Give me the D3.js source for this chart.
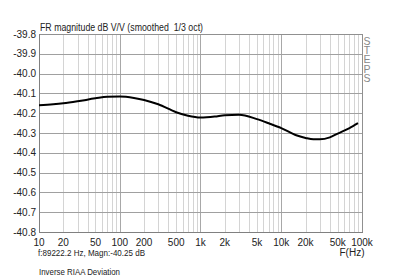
<!DOCTYPE html>
<html>
<head>
<meta charset="utf-8">
<script src="https://cdn.jsdelivr.net/npm/d3@7"></script>
<style>
  body { margin: 0; background: #fff; }
  svg { display: block; font-family: "Liberation Sans", Arial, sans-serif; }
</style>
</head>
<body>
<div id="plot"></div>
<script>
// frequency response readings (Hz, dB)
var freqs = [10, 15, 20, 30, 50, 70, 100, 150, 200, 300, 500, 700, 1000, 1500, 2000,
  3000, 5000, 7000, 10000, 15000, 20000, 25000, 30000, 40000, 50000, 70000, 89222];
var mags = [-40.16, -40.155, -40.15, -40.14, -40.125, -40.117, -40.116, -40.123, -40.133,
  -40.155, -40.195, -40.213, -40.222, -40.217, -40.21, -40.208, -40.23, -40.251, -40.275,
  -40.31, -40.325, -40.332, -40.332, -40.322, -40.303, -40.275, -40.25];
var yTicks = [-39.8, -39.9, -40.0, -40.1, -40.2, -40.3, -40.4, -40.5, -40.6, -40.7, -40.8];
var xTicks = [10, 20, 50, 100, 200, 500, 1000, 2000, 5000, 10000, 20000, 50000, 100000];
var xLabels = ["10", "20", "50", "100", "200", "500", "1k", "2k", "5k", "10k", "20k", "50k", "100k"];

var width = 400, height = 279;
var margin = {top: 34, right: 38, bottom: 47, left: 39};
var w = width - margin.left - margin.right;
var h = height - margin.top - margin.bottom;

var x = d3.scaleLog().domain([10, 100000]).range([0, w]);
var y = d3.scaleLinear().domain([-40.8, -39.8]).range([h, 0]);

var svg = d3.select("#plot").append("svg")
  .attr("width", width)
  .attr("height", height);

var g = svg.append("g")
  .attr("transform", "translate(" + margin.left + "," + margin.top + ")");

// minor + decade verticals
var allX = x.ticks();
g.selectAll(".vgrid")
  .data(allX)
  .enter().append("line")
  .attr("x1", function(d) { return Math.round(x(d)) + 0.5; })
  .attr("x2", function(d) { return Math.round(x(d)) + 0.5; })
  .attr("y1", 0)
  .attr("y2", h)
  .attr("stroke", function(d) {
    var l = Math.log10(d);
    return Math.abs(l - Math.round(l)) < 1e-9 ? "#a8a8a8" : "#d4d4d4";
  })
  .attr("stroke-width", 1);

g.selectAll(".hgrid")
  .data(yTicks)
  .enter().append("line")
  .attr("x1", 0)
  .attr("x2", w)
  .attr("y1", function(d) { return Math.round(y(d)) + 0.5; })
  .attr("y2", function(d) { return Math.round(y(d)) + 0.5; })
  .attr("stroke", "#a0a0a0")
  .attr("stroke-width", 1);

// frame
g.append("rect")
  .attr("x", 0.5).attr("y", 0.5)
  .attr("width", w).attr("height", h)
  .attr("fill", "none")
  .attr("stroke", "#909090");
g.append("line").attr("x1", 0.5).attr("x2", 0.5).attr("y1", 0).attr("y2", h + 1)
  .attr("stroke", "#808080");
g.append("line").attr("x1", 0).attr("x2", w + 1).attr("y1", h + 0.5).attr("y2", h + 0.5)
  .attr("stroke", "#808080");

var data = freqs.map(function(f, i) { return {f: f, m: mags[i]}; });
var line = d3.line()
  .x(function(d) { return x(d.f); })
  .y(function(d) { return y(d.m); })
  .curve(d3.curveMonotoneX);

g.append("path")
  .datum(data)
  .attr("fill", "none")
  .attr("stroke", "#000")
  .attr("stroke-width", 2)
  .attr("d", line);

// y labels
g.selectAll(".ylab")
  .data(yTicks)
  .enter().append("text")
  .attr("x", -3)
  .attr("y", function(d) { return y(d) + 3.5; })
  .attr("text-anchor", "end")
  .attr("font-size", 10)
  .attr("fill", "#222")
  .text(function(d) { return d.toFixed(1); });

// x labels
g.selectAll(".xlab")
  .data(xTicks)
  .enter().append("text")
  .attr("x", function(d) { return x(d); })
  .attr("y", h + 14)
  .attr("text-anchor", "middle")
  .attr("font-size", 10)
  .attr("fill", "#222")
  .text(function(d, i) { return xLabels[i]; });

svg.append("text")
  .attr("x", 40).attr("y", 31)
  .attr("font-size", 10)
  .attr("fill", "#222")
  .attr("textLength", 163)
  .attr("lengthAdjust", "spacingAndGlyphs")
  .style("white-space", "pre")
  .text("FR magnitude dB V/V (smoothed  1/3 oct)");

svg.append("text")
  .attr("x", 352).attr("y", 256)
  .attr("text-anchor", "middle")
  .attr("font-size", 10)
  .attr("fill", "#222")
  .text("F(Hz)");

svg.append("text")
  .attr("x", 38).attr("y", 256)
  .attr("font-size", 9)
  .attr("fill", "#222")
  .attr("textLength", 107)
  .attr("lengthAdjust", "spacingAndGlyphs")
  .text("f:89222.2 Hz, Magn:-40.25 dB");

svg.append("text")
  .attr("x", 39).attr("y", 275)
  .attr("font-size", 9)
  .attr("fill", "#222")
  .attr("textLength", 81)
  .attr("lengthAdjust", "spacingAndGlyphs")
  .text("Inverse RIAA Deviation");

svg.append("text")
  .attr("x", 367).attr("y", 35)
  .attr("font-size", 10.5)
  .attr("letter-spacing", -2.8)
  .attr("fill", "#888")
  .style("writing-mode", "vertical-rl")
  .style("text-orientation", "upright")
  .text("STEPS");
</script>
</body>
</html>
